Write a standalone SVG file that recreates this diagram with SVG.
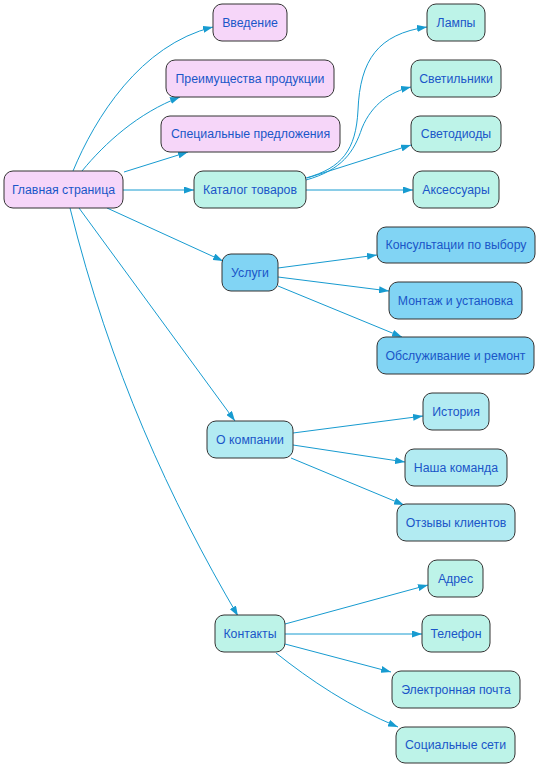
<svg xmlns="http://www.w3.org/2000/svg" width="539" height="768" viewBox="0 0 539 768">
<style>
.n rect{stroke:#333;stroke-width:1}
.n text{font-family:"Liberation Sans",Arial,sans-serif;font-size:12.3px;fill:#1a56c8;text-anchor:middle}
.pk rect{fill:#f6d6f9}
.mt rect{fill:#bdf3e8}
.bl rect{fill:#81d4f4}
.cy rect{fill:#b2ebf2}
#edges path{fill:none;stroke:#179bd0;stroke-width:1;marker-end:url(#ah)}
</style>
<defs>
<marker id="ah" viewBox="0 0 10 7" refX="10" refY="3.5" markerWidth="10" markerHeight="7" markerUnits="userSpaceOnUse" orient="auto">
<path d="M0,0 L10,3.5 L0,7 z" fill="#179bd0"/>
</marker>
</defs>
<rect width="539" height="768" fill="#fff"/>
<g id="edges">
<path d="M73,171 C95,118 140,45 213,27"/>
<path d="M82,171 C105,143 138,113 180,97"/>
<path d="M124,172 L188,152"/>
<path d="M123,190 L194,190"/>
<path d="M107,208 L223,261"/>
<path d="M79,208 L235,421"/>
<path d="M70,208 C110,370 170,500 238,616"/>
<path d="M306,178 C342,168 356,150 358,110 C360,60 378,34 427,27"/>
<path d="M306,180 C342,170 354,152 362,128 C372,104 390,92 411,87"/>
<path d="M307,178 L411,145"/>
<path d="M306,190 L413,190"/>
<path d="M278,268 L377,255"/>
<path d="M278,277 L389,291"/>
<path d="M278,286 L402,337"/>
<path d="M293,433 L423,416"/>
<path d="M293,445 L405,462"/>
<path d="M291,458 L404,505"/>
<path d="M285,624 L428,585"/>
<path d="M285,634 L422,634"/>
<path d="M285,644 L391,672"/>
<path d="M276,653 C310,680 350,707 398,727"/>
</g>
<g id="n-main" class="n pk"><rect x="4" y="171" width="119" height="37" rx="9"/><text x="63.5" y="193.5">Главная страница</text></g>
<g id="n-intro" class="n pk"><rect x="213" y="4" width="74" height="37" rx="9"/><text x="250" y="26.5">Введение</text></g>
<g id="n-adv" class="n pk"><rect x="166" y="60" width="168" height="37" rx="9"/><text x="250" y="82.5">Преимущества продукции</text></g>
<g id="n-spec" class="n pk"><rect x="161" y="116" width="179" height="36" rx="9"/><text x="250.5" y="138">Специальные предложения</text></g>
<g id="n-cat" class="n mt"><rect x="194" y="171" width="112" height="37" rx="9"/><text x="250" y="193.5">Каталог товаров</text></g>
<g id="n-lamps" class="n mt"><rect x="427" y="4" width="58" height="37" rx="9"/><text x="456" y="26.5">Лампы</text></g>
<g id="n-svet" class="n mt"><rect x="411" y="60" width="90" height="37" rx="9"/><text x="456" y="82.5">Светильники</text></g>
<g id="n-led" class="n mt"><rect x="411" y="116" width="90" height="36" rx="9"/><text x="456" y="138">Светодиоды</text></g>
<g id="n-acc" class="n mt"><rect x="413" y="171" width="86" height="37" rx="9"/><text x="456" y="193.5">Аксессуары</text></g>
<g id="n-serv" class="n bl"><rect x="222" y="254" width="56" height="37" rx="9"/><text x="250" y="276.5">Услуги</text></g>
<g id="n-cons" class="n bl"><rect x="377" y="227" width="158" height="36" rx="9"/><text x="456" y="249">Консультации по выбору</text></g>
<g id="n-mont" class="n bl"><rect x="389" y="282" width="133" height="37" rx="9"/><text x="455.5" y="304.5">Монтаж и установка</text></g>
<g id="n-obs" class="n bl"><rect x="377" y="337" width="157" height="37" rx="9"/><text x="455.5" y="359.5">Обслуживание и ремонт</text></g>
<g id="n-about" class="n cy"><rect x="207" y="421" width="86" height="37" rx="9"/><text x="250" y="443.5">О компании</text></g>
<g id="n-hist" class="n cy"><rect x="423" y="393" width="66" height="37" rx="9"/><text x="456" y="415.5">История</text></g>
<g id="n-team" class="n cy"><rect x="405" y="449" width="102" height="37" rx="9"/><text x="456" y="471.5">Наша команда</text></g>
<g id="n-rev" class="n cy"><rect x="397" y="504" width="118" height="37" rx="9"/><text x="456" y="526.5">Отзывы клиентов</text></g>
<g id="n-cont" class="n mt"><rect x="215" y="615" width="70" height="37" rx="9"/><text x="250" y="637.5">Контакты</text></g>
<g id="n-addr" class="n mt"><rect x="428" y="560" width="55" height="37" rx="9"/><text x="455.5" y="582.5">Адрес</text></g>
<g id="n-tel" class="n mt"><rect x="422" y="615" width="68" height="37" rx="9"/><text x="456" y="637.5">Телефон</text></g>
<g id="n-mail" class="n mt"><rect x="392" y="671" width="128" height="37" rx="9"/><text x="456" y="693.5">Электронная почта</text></g>
<g id="n-soc" class="n mt"><rect x="396" y="727" width="119" height="36" rx="9"/><text x="455.5" y="749">Социальные сети</text></g>
</svg>
